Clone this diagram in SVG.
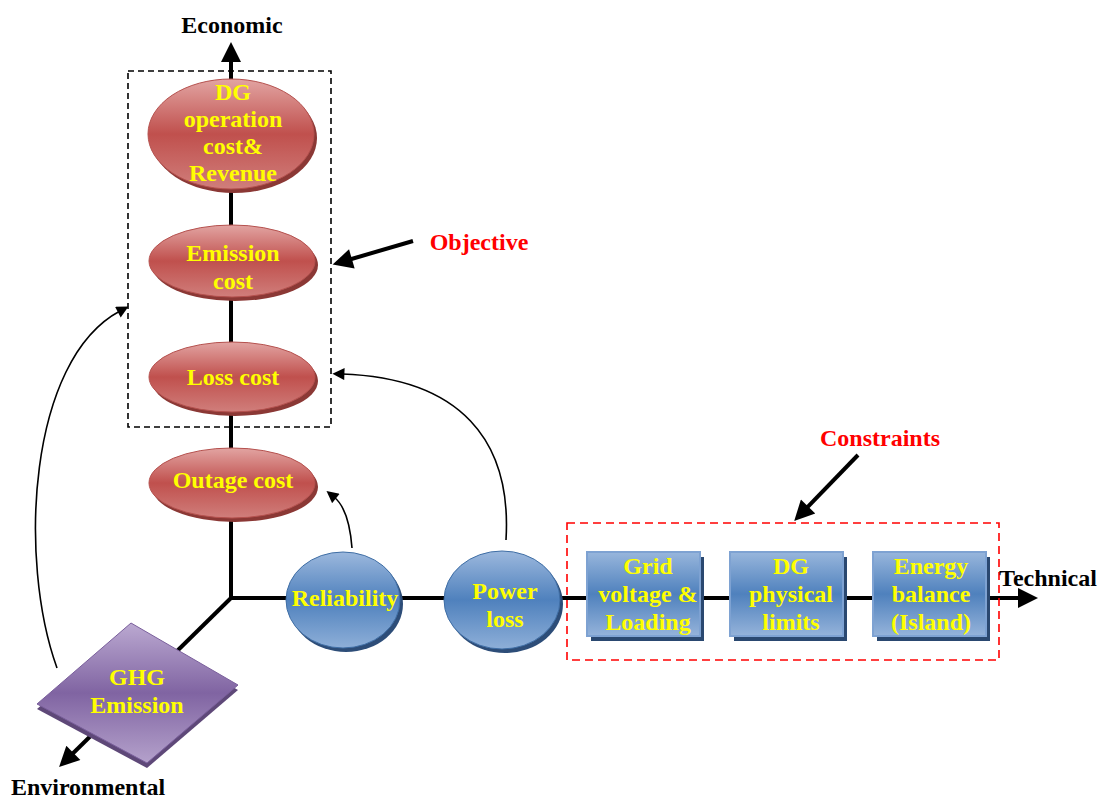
<svg xmlns="http://www.w3.org/2000/svg" width="1106" height="800" viewBox="0 0 1106 800">
<style>
.lbl{font-family:"Liberation Serif","Times New Roman",serif;font-weight:bold;font-size:24px;text-anchor:middle}
.y{fill:#ffff00}
.k{fill:#000}
.r{fill:#ff0000}
.axis{stroke:#000;stroke-width:4;fill:none}
.thin{stroke:#000;stroke-width:1.6;fill:none}
.redE{fill:url(#gRed);stroke:#b5514e;stroke-width:1}
.redS{fill:#8b3835}
.blueE{fill:url(#gBlue);stroke:#3f6ea5;stroke-width:1}
.blueS{fill:#2d4d78}
.box{fill:url(#gBox);stroke:#7ea2d2;stroke-width:2}
</style>
<defs>
<linearGradient id="gRed" x1="0" y1="0" x2="0" y2="1">
<stop offset="0" stop-color="#e2a4a2"/>
<stop offset="0.5" stop-color="#c0504d"/>
<stop offset="1" stop-color="#d07e7b"/>
</linearGradient>
<linearGradient id="gBlue" x1="0" y1="0" x2="0" y2="1">
<stop offset="0" stop-color="#9cb8dd"/>
<stop offset="0.5" stop-color="#4f81bd"/>
<stop offset="1" stop-color="#8eafd8"/>
</linearGradient>
<linearGradient id="gBox" x1="0" y1="0" x2="0" y2="1">
<stop offset="0" stop-color="#98b6dc"/>
<stop offset="0.5" stop-color="#4f81bd"/>
<stop offset="1" stop-color="#95b3da"/>
</linearGradient>
<linearGradient id="gPur" x1="0" y1="0" x2="0" y2="1">
<stop offset="0" stop-color="#bba9d1"/>
<stop offset="0.5" stop-color="#8064a2"/>
<stop offset="1" stop-color="#b4a1cb"/>
</linearGradient>
<marker id="ahBig" viewBox="0 0 10 10" markerUnits="userSpaceOnUse" markerWidth="22" markerHeight="20" refX="2" refY="5" orient="auto">
<path d="M0,0 L10,5 L0,10 z" fill="#000"/>
</marker>
<marker id="ahSmall" viewBox="0 0 10 10" markerUnits="userSpaceOnUse" markerWidth="14" markerHeight="12" refX="2" refY="5" orient="auto">
<path d="M0,0 L10,5 L0,10 z" fill="#000"/>
</marker>
</defs>
<rect width="1106" height="800" fill="#fff"/>

<g id="connectors">
<line class="axis" x1="231" y1="598" x2="231" y2="58" marker-end="url(#ahBig)"/>
<line class="axis" x1="231" y1="598" x2="1022" y2="598" marker-end="url(#ahBig)"/>
<line class="axis" x1="231" y1="598" x2="70.5" y2="755.7" marker-end="url(#ahBig)"/>
<line class="axis" x1="413" y1="241" x2="348" y2="260" marker-end="url(#ahBig)"/>
<line class="axis" x1="858" y1="455" x2="805.3" y2="509.4" marker-end="url(#ahBig)"/>
<path class="thin" d="M57,668 C18,560 28,360 120,311" marker-end="url(#ahSmall)"/>
<path class="thin" d="M506,540 C512,440 460,378 342,374" marker-end="url(#ahSmall)"/>
<path class="thin" d="M352,548 C350,522 344,505 334,497" marker-end="url(#ahSmall)"/>
</g>

<g id="objective-group">
<rect x="128" y="71" width="203" height="356" fill="none" stroke="#000" stroke-width="1.6" stroke-dasharray="6,4"/>
</g>
<g id="constraint-group">
<rect x="567" y="523" width="432" height="137" fill="none" stroke="#ff0000" stroke-width="1.6" stroke-dasharray="8,5"/>
</g>

<g id="dg-operation">
<ellipse class="redS" cx="234" cy="138" rx="83" ry="55"/>
<ellipse class="redE" cx="231" cy="134" rx="83" ry="55"/>
<text class="lbl y" x="233" y="100">DG</text>
<text class="lbl y" x="233" y="127">operation</text>
<text class="lbl y" x="233" y="154">cost&amp;</text>
<text class="lbl y" x="233" y="181">Revenue</text>
</g>
<g id="emission-cost">
<ellipse class="redS" cx="235" cy="265" rx="83" ry="36"/>
<ellipse class="redE" cx="232" cy="261" rx="83" ry="36"/>
<text class="lbl y" x="233" y="261">Emission</text>
<text class="lbl y" x="233" y="289">cost</text>
</g>
<g id="loss-cost">
<ellipse class="redS" cx="235" cy="381" rx="83" ry="35"/>
<ellipse class="redE" cx="232" cy="377" rx="83" ry="35"/>
<text class="lbl y" x="233" y="385">Loss cost</text>
</g>
<g id="outage-cost">
<ellipse class="redS" cx="235" cy="487" rx="83" ry="35"/>
<ellipse class="redE" cx="232" cy="483" rx="83" ry="35"/>
<text class="lbl y" x="233" y="488">Outage cost</text>
</g>

<g id="reliability">
<ellipse class="blueS" cx="346" cy="604" rx="57" ry="48"/>
<ellipse class="blueE" cx="343" cy="600" rx="57" ry="48"/>
<text class="lbl y" x="345" y="606">Reliability</text>
</g>
<g id="power-loss">
<ellipse class="blueS" cx="505" cy="604" rx="58" ry="49"/>
<ellipse class="blueE" cx="502" cy="600" rx="58" ry="49"/>
<text class="lbl y" x="505" y="599">Power</text>
<text class="lbl y" x="505" y="627">loss</text>
</g>

<g id="grid-voltage">
<rect x="591" y="557" width="113" height="84" fill="#2a4870"/>
<rect class="box" x="587" y="552" width="113" height="84"/>
<text class="lbl y" x="648" y="574">Grid</text>
<text class="lbl y" x="648" y="602">voltage &amp;</text>
<text class="lbl y" x="648" y="630">Loading</text>
</g>
<g id="dg-physical">
<rect x="734" y="557" width="113" height="84" fill="#2a4870"/>
<rect class="box" x="730" y="552" width="113" height="84"/>
<text class="lbl y" x="791" y="574">DG</text>
<text class="lbl y" x="791" y="602">physical</text>
<text class="lbl y" x="791" y="630">limits</text>
</g>
<g id="energy-balance">
<rect x="877" y="557" width="113" height="84" fill="#2a4870"/>
<rect class="box" x="873" y="552" width="113" height="84"/>
<text class="lbl y" x="931" y="574">Energy</text>
<text class="lbl y" x="931" y="602">balance</text>
<text class="lbl y" x="931" y="630">(Island)</text>
</g>

<g id="ghg-emission">
<polygon points="37,709 131,628 238,690 147,768" fill="#5e4878"/>
<polygon points="37,704 131,623 238,685 147,763" fill="url(#gPur)" stroke="#7a5f9c" stroke-width="1"/>
<text class="lbl y" x="137" y="685">GHG</text>
<text class="lbl y" x="137" y="713">Emission</text>
</g>

<g id="labels">
<text class="lbl k" x="232" y="33">Economic</text>
<text class="lbl k" x="1048" y="586">Technical</text>
<text class="lbl k" x="88" y="795">Environmental</text>
<text class="lbl r" x="479" y="250">Objective</text>
<text class="lbl r" x="880" y="446">Constraints</text>
</g>
</svg>
